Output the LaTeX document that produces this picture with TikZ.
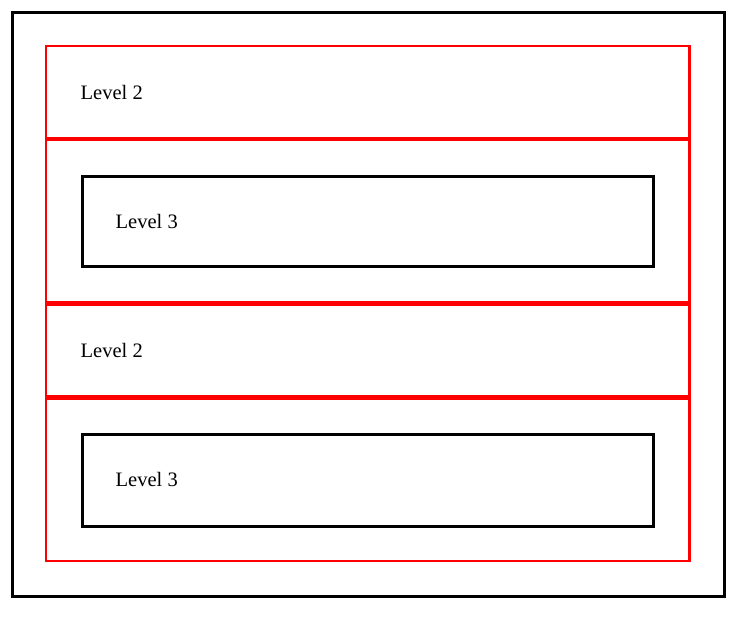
\documentclass[tikz,border=0pt]{standalone}
\usepackage{fontspec}
\setmainfont{Liberation Serif}
\usetikzlibrary{positioning}

\tikzset{
  outerbox/.style={draw=black, line width=3pt, inner sep=0pt, outer sep=0pt, anchor=north west},
  levelbox/.style={draw=red, line width=2.5pt, inner sep=0pt, outer sep=0pt, anchor=north west, minimum width=643.3pt},
  innerbox/.style={draw=black, line width=3pt, inner sep=0pt, outer sep=0pt, anchor=north west, minimum width=571pt},
  levellabel/.style={inner sep=0pt, anchor=base west, font=\fontsize{20.5}{24}\selectfont}
}

\begin{document}
\begin{tikzpicture}[x=1pt, y=-1pt]
    \useasboundingbox (0,0) rectangle (737,629);
    % outer frame
    \node[outerbox, minimum width=712.5pt, minimum height=584.5pt] (frame) at (12,12) {};
    % level 2 blocks
    \node[levelbox, minimum height=92pt] (lvlA) at (46,46) {};
    \node[levelbox, minimum height=162.5pt] (lvlB) at (46,140.2) {};
    \node[levelbox, minimum height=91.5pt] (lvlC) at (46,304.8) {};
    \node[levelbox, minimum height=162.7pt] (lvlD) at (46,398.3) {};
    % level 3 blocks
    \node[innerbox, minimum height=90.3pt] (subB) at (82.5,176.5) {};
    \node[innerbox, minimum height=91.5pt] (subD) at (82.5,434.5) {};
    % labels
    \node[levellabel] (txtA) at (80.5,99) {Level 2};
    \node[levellabel] (txtB) at (115.5,228) {Level 3};
    \node[levellabel] (txtC) at (80.5,357) {Level 2};
    \node[levellabel] (txtD) at (115.5,486) {Level 3};
\end{tikzpicture}
\end{document}
